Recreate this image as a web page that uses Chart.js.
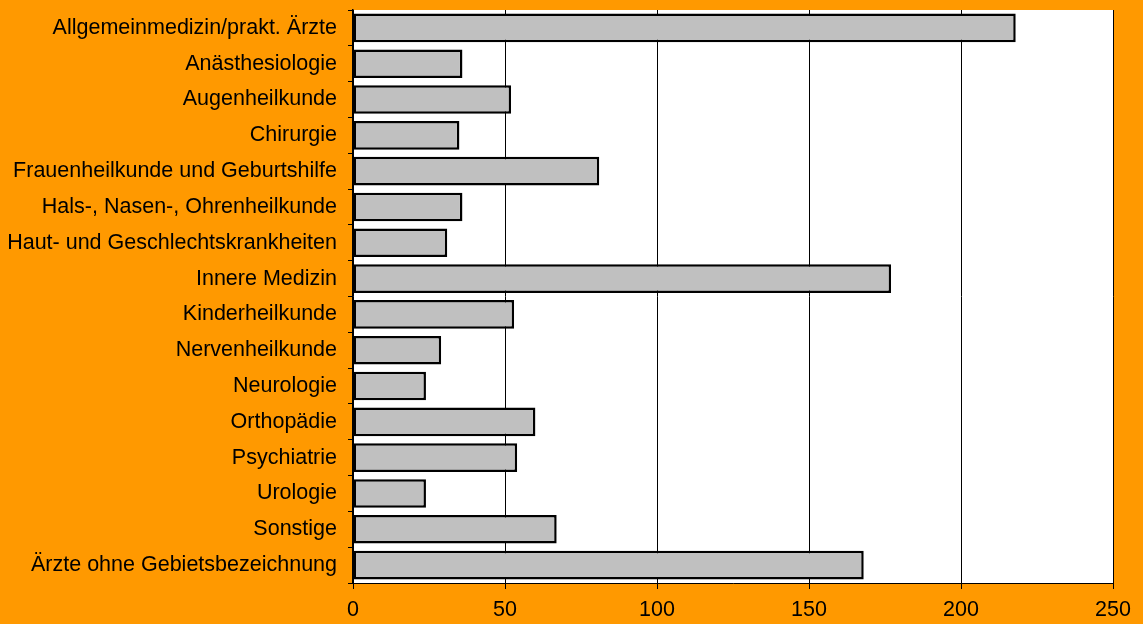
<!DOCTYPE html>
<html>
<head>
<meta charset="utf-8">
<style>
  html, body { margin: 0; padding: 0; background: #FF9900; }
  #wrap { width: 1143px; height: 624px; }
</style>
</head>
<body>
<div id="wrap"><canvas id="chart" width="1143" height="624"></canvas></div>
<script src="https://cdn.jsdelivr.net/npm/chart.js@4.4.1/dist/chart.umd.min.js"></script>
<script>
  const categories = [
    "Allgemeinmedizin/prakt. Ärzte",
    "Anästhesiologie",
    "Augenheilkunde",
    "Chirurgie",
    "Frauenheilkunde und Geburtshilfe",
    "Hals-, Nasen-, Ohrenheilkunde",
    "Haut- und Geschlechtskrankheiten",
    "Innere Medizin",
    "Kinderheilkunde",
    "Nervenheilkunde",
    "Neurologie",
    "Orthopädie",
    "Psychiatrie",
    "Urologie",
    "Sonstige",
    "Ärzte ohne Gebietsbezeichnung"
  ];
  const values = [218, 36, 52, 35, 81, 36, 31, 177, 53, 29, 24, 60, 54, 24, 67, 168];
  const xTicks = [0, 50, 100, 150, 200, 250];

  // orange page + white plot area
  const background = {
    id: "background",
    beforeDraw(chart) {
      const { ctx, chartArea: a } = chart;
      ctx.save();
      ctx.fillStyle = "#FF9900";
      ctx.fillRect(0, 0, chart.width, chart.height);
      ctx.fillStyle = "#FFFFFF";
      ctx.fillRect(a.left, a.top, a.right - a.left, a.bottom - a.top);
      ctx.restore();
    }
  };

  const font = { family: "'Liberation Sans', Arial, sans-serif", size: 21.5 };

  new Chart(document.getElementById("chart").getContext("2d"), {
    type: "bar",
    data: {
      labels: categories,
      datasets: [{
        data: values,
        backgroundColor: "#C0C0C0",
        borderColor: "#000000",
        borderWidth: 2.5,
        borderSkipped: false,
        barPercentage: 0.8,
        categoryPercentage: 1
      }]
    },
    options: {
      indexAxis: "y",
      responsive: false,
      animation: false,
      layout: { padding: { top: 10, right: 30, left: 0, bottom: 0 } },
      plugins: { legend: { display: false }, tooltip: { enabled: false } },
      scales: {
        x: {
          min: 0,
          max: 250,
          afterBuildTicks: s => { s.ticks = xTicks.map(v => ({ value: v })); },
          afterFit: s => { s.height = 41; },
          ticks: { color: "#000", font, padding: 8, maxRotation: 0 },
          grid: { color: "#000", lineWidth: 1, tickLength: 6, drawOnChartArea: true },
          border: { color: "#000", width: 1 }
        },
        y: {
          afterFit: s => { s.width = 353; s.paddingTop = 0; s.paddingBottom = 0; },
          ticks: { color: "#000", font, padding: 11, autoSkip: false },
          grid: { color: "#000", tickLength: 5, drawOnChartArea: false, offset: true },
          border: { color: "#000", width: 1.5 }
        }
      }
    },
    plugins: [background]
  });
</script>
</body>
</html>
